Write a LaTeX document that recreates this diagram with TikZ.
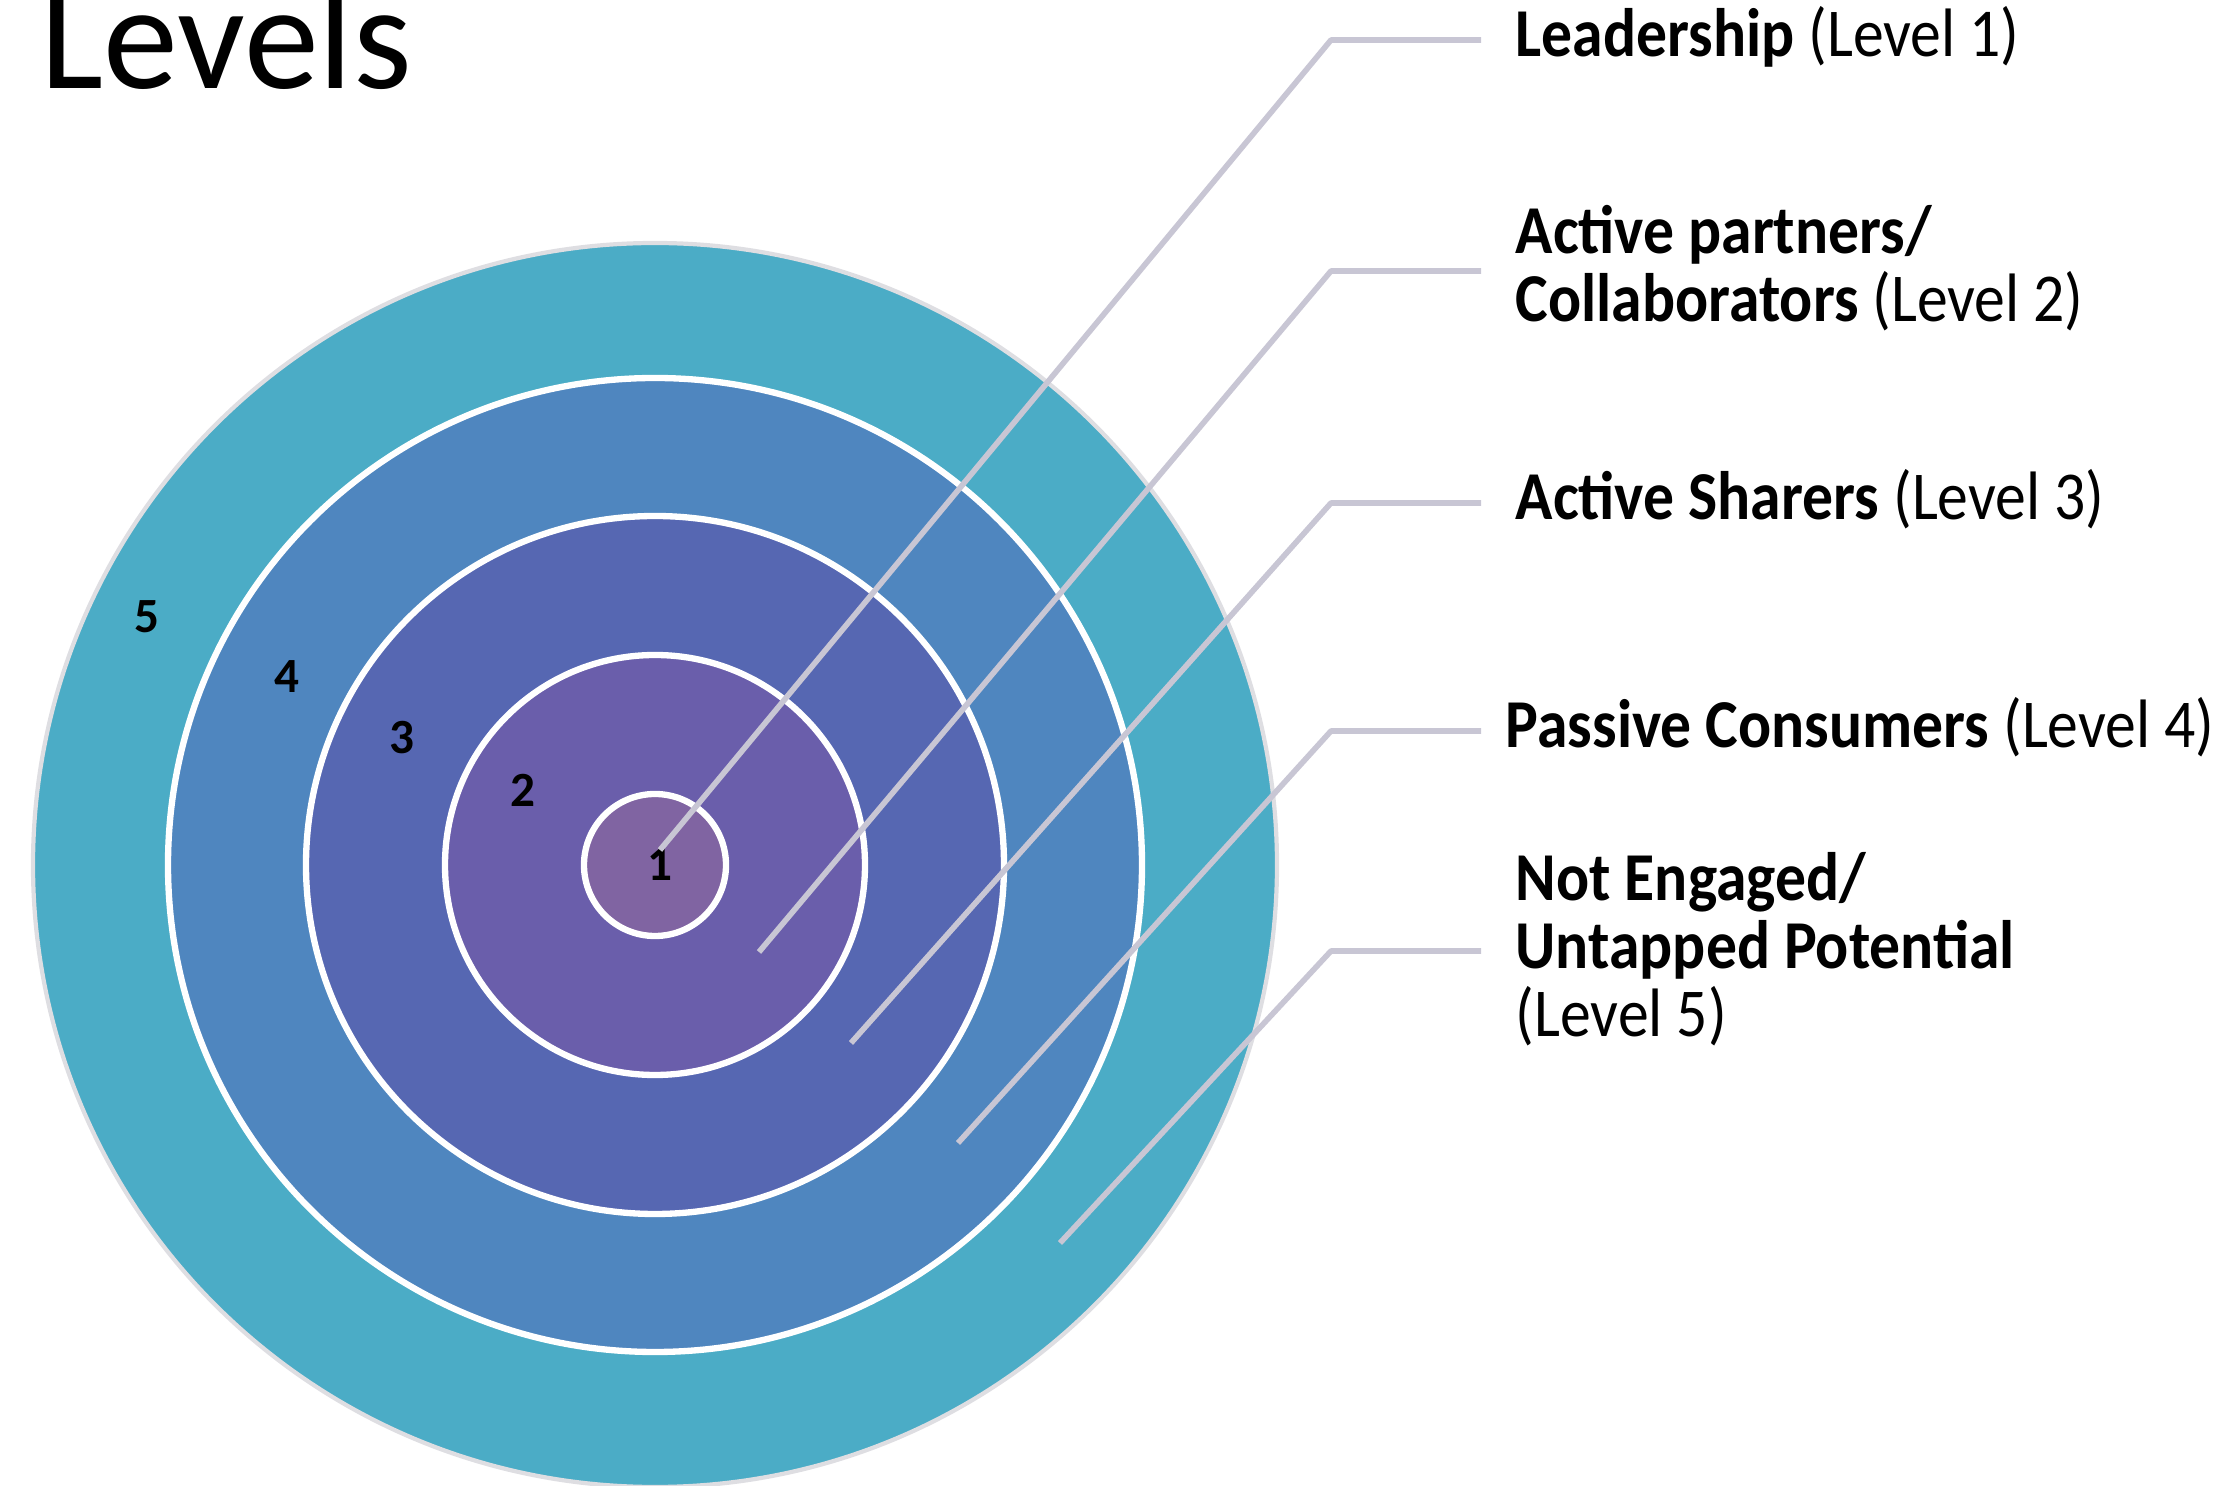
\documentclass[tikz,border=0pt]{standalone}
\usepackage{fontspec}
\setmainfont{Carlito}
\newfontfamily\labelfont{Carlito}[FakeStretch=0.9]
\usepackage{tikz}

\definecolor{levelfive}{RGB}{75,172,198}
\definecolor{levelfour}{RGB}{79,134,191}
\definecolor{levelthree}{RGB}{86,103,178}
\definecolor{leveltwo}{RGB}{106,94,171}
\definecolor{levelone}{RGB}{128,100,162}
\definecolor{leadergray}{RGB}{200,198,212}
\definecolor{rimgray}{RGB}{222,222,226}

\begin{document}
\begin{tikzpicture}
    % Define styles
    \tikzset{
        ring/.style={circle, draw=white, line width=1.8pt, inner sep=0pt},
        number/.style={font=\fontsize{14}{16}\selectfont\bfseries, inner sep=0pt},
        caption/.style={font=\labelfont\fontsize{19.5}{19.4}\selectfont, align=left, inner sep=0pt, anchor=base west},
        leader/.style={draw=leadergray, line width=1.6pt, line join=round}
    }
    \useasboundingbox (0,0) rectangle (22.33,14.86);

    % Title
    \node[font=\fontsize{42.7}{50}\selectfont, anchor=base west, inner sep=0pt] (title) at (0.40,13.97) {Levels};

    % Circles
    \node[ring, draw=rimgray, line width=1.2pt, fill=levelfive, minimum size=12.44cm] (circle_5) at (6.55,6.21) {};
    \node[ring, fill=levelfour, minimum size=9.74cm] (circle_4) at (6.55,6.21) {};
    \node[ring, fill=levelthree, minimum size=6.98cm] (circle_3) at (6.55,6.21) {};
    \node[ring, fill=leveltwo, minimum size=4.20cm] (circle_2) at (6.55,6.21) {};
    \node[ring, fill=levelone, minimum size=1.42cm] (circle_1) at (6.55,6.21) {};

    % Numbers
    \node[number] (num_5) at (1.47,8.69) {5};
    \node[number] (num_4) at (2.87,8.09) {4};
    \node[number] (num_3) at (4.02,7.48) {3};
    \node[number] (num_2) at (5.23,6.96) {2};
    \node[number] (num_1) at (6.60,6.21) {1};

    % Labels (multi-line ones sit on their last line)
    \node[caption] (label_1) at (15.15,14.29) {\textbf{Leadership} (Level 1)};
    \node[caption] (label_2) at (15.15,11.64) {\textbf{Active partners/}\\\textbf{Collaborators} (Level 2)};
    \node[caption] (label_3) at (15.15,9.66) {\textbf{Active Sharers} (Level 3)};
    \node[caption] (label_4) at (15.05,7.38) {\textbf{Passive Consumers} (Level 4)};
    \node[caption] (label_5) at (15.15,4.49) {\textbf{Not Engaged/}\\\textbf{Untapped Potential}\\(Level 5)};

    % Leader lines
    \coordinate (tip_1) at (6.60,6.36);
    \coordinate (bend_1) at (13.31,14.46);
    \coordinate (end_1) at (14.81,14.46);
    \coordinate (tip_2) at (7.59,5.34);
    \coordinate (bend_2) at (13.31,12.15);
    \coordinate (end_2) at (14.81,12.15);
    \coordinate (tip_3) at (8.51,4.43);
    \coordinate (bend_3) at (13.31,9.83);
    \coordinate (end_3) at (14.81,9.83);
    \coordinate (tip_4) at (9.58,3.43);
    \coordinate (bend_4) at (13.31,7.55);
    \coordinate (end_4) at (14.81,7.55);
    \coordinate (tip_5) at (10.60,2.43);
    \coordinate (bend_5) at (13.31,5.35);
    \coordinate (end_5) at (14.81,5.35);

    \draw[leader] (tip_1) -- (bend_1) -- (end_1);
    \draw[leader] (tip_2) -- (bend_2) -- (end_2);
    \draw[leader] (tip_3) -- (bend_3) -- (end_3);
    \draw[leader] (tip_4) -- (bend_4) -- (end_4);
    \draw[leader] (tip_5) -- (bend_5) -- (end_5);
\end{tikzpicture}
\end{document}
